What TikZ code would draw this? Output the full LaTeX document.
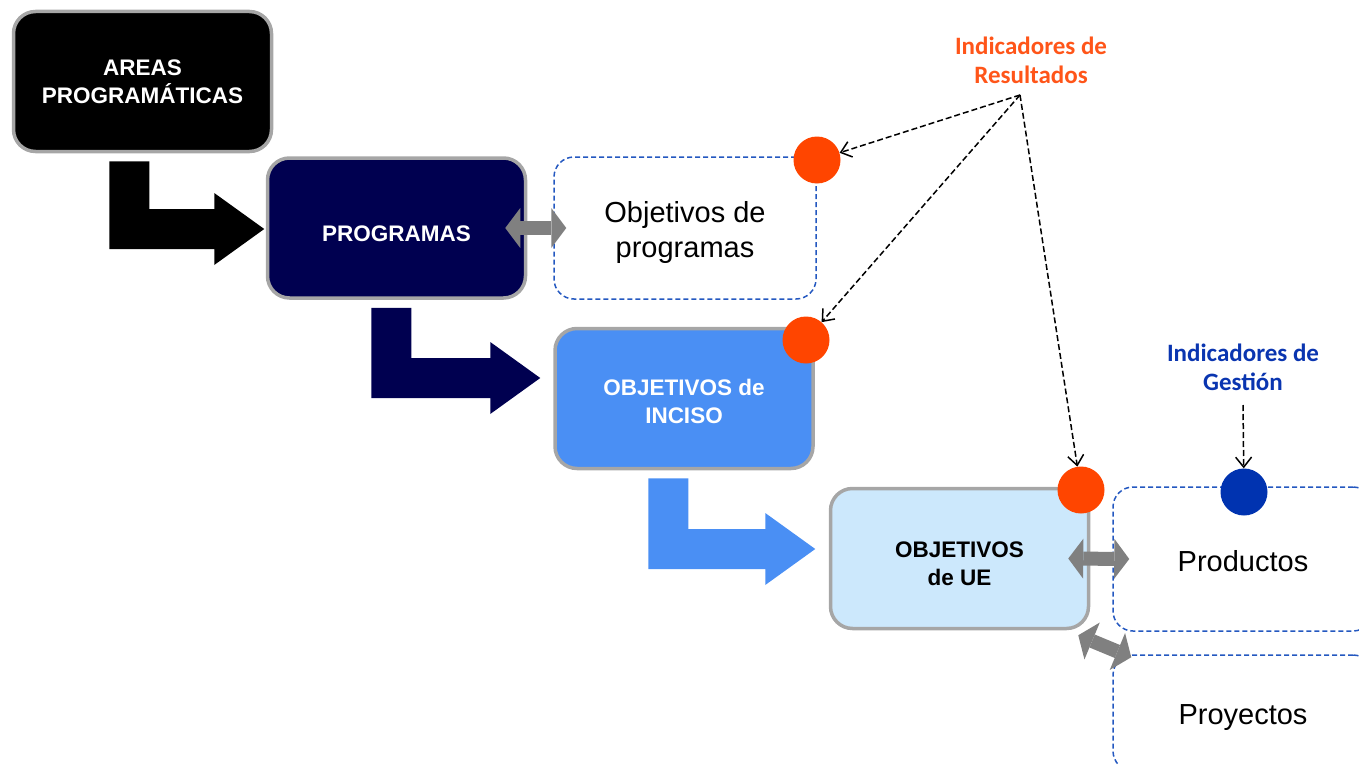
\documentclass[tikz,border=0pt]{standalone}
\usepackage{fontspec}
\setmainfont{Liberation Sans}
\newfontfamily\calibri{Carlito}
\usepackage{tikz}
\usetikzlibrary{arrows.meta,calc}

\definecolor{progblue}{HTML}{000050}
\definecolor{incisoblue}{HTML}{4A8FF4}
\definecolor{uefill}{HTML}{CCE8FC}
\definecolor{boxgray}{HTML}{A6A6A6}
\definecolor{dashblue}{HTML}{2458C0}
\definecolor{arrowgray}{HTML}{808080}
\definecolor{resorange}{HTML}{FF4500}
\definecolor{restext}{HTML}{FF5519}
\definecolor{gestblue}{HTML}{0033B0}
\definecolor{gesttext}{HTML}{0A35B0}

\newcommand{\topstrut}[1]{\rule{0pt}{#1pt}}
\newcommand{\elbow}[6]{%
  \fill[#1] let \p1 = ([shift={(#4,8)}]#2.south west), \p3 = ([shift={(-#5,#6)}]#3.west) in
    (\p1) -- (\x1+40pt,\y1) -- (\x1+40pt,\y3+20pt) -- (\x3-50pt,\y3+20pt) -- (\x3-50pt,\y3+36pt)
    -- (\p3) -- (\x3-50pt,\y3-36pt) -- (\x3-50pt,\y3-20pt) -- (\x1,\y3-20pt) -- cycle;}

\begin{document}
\begin{tikzpicture}[x = 1pt, y = -1pt,
	blockbox/.style = {draw = boxgray, line width = 3.5pt, rounded corners = 22pt, minimum width = 258pt, minimum height = 140pt, align = center, font = \bfseries\fontsize{22.5}{28}\selectfont},
	objbox/.style = {draw = dashblue, line width = 1.5pt, dash pattern = on 5pt off 3pt, rounded corners = 20pt, minimum width = 262pt, minimum height = 142pt, align = center, font = \fontsize{29}{35}\selectfont},
	inddot/.style = {shape = circle, inner sep = 0pt, minimum size = 47pt},
	indlabel/.style = {align = center, font = \calibri\bfseries\fontsize{25}{29}\selectfont},
	dashlink/.style = {line width = 1.5pt, dash pattern = on 6pt off 3pt, -{Straight Barb[length=10pt,width=16pt]}},
	grayarrow/.style = {line width = 14pt, arrowgray, {Triangle[length=15pt,width=40pt,line width=0pt]}-{Triangle[length=15pt,width=40pt,line width=0pt]}}]
	\useasboundingbox (0,0) rectangle (1359,765);
	\clip (0,0) rectangle (1359,765);

	\node[blockbox, fill = black, text = white] (areas) at (142.5,81.5) {AREAS\\PROGRAMÁTICAS};
	\node[blockbox, fill = progblue, text = white] (prog) at (396.5,228) {\topstrut{28}PROGRAMAS};
	\node[objbox] (objprog) at (685,228) {\topstrut{31}Objetivos de\\programas};
	\node[blockbox, fill = incisoblue, text = white] (inciso) at (684,398.5) {\topstrut{22.5}OBJETIVOS de\\INCISO};
	\node[blockbox, fill = uefill, text = black] (ue) at (959.5,558.5) {\topstrut{26.5}OBJETIVOS\\de UE};
	\node[objbox, minimum width = 260pt, minimum height = 144pt] (prod) at (1243,559) {\topstrut{25}Productos};
	\node[objbox, minimum width = 260pt, minimum height = 116pt] (proy) at (1243,713) {\topstrut{29}Proyectos};

	\elbow{black}{areas}{prog}{97.5}{1.5}{1}
	\elbow{progblue}{prog}{inciso}{105.5}{13}{-20.5}
	\elbow{incisoblue}{inciso}{ue}{95}{13.5}{-9.5}

	\draw[grayarrow] ([xshift=-22pt]prog.east) -- ([xshift=13pt]objprog.west);
	\draw[grayarrow] ([xshift=-22pt]ue.east) -- ([xshift=17pt]prod.west);
	\draw[grayarrow] ([shift={(-12,5)}]ue.south east) -- ([shift={(19,3)}]proy.north west);

	\node[inddot, fill = resorange] (c1) at (817,160) {};
	\node[inddot, fill = resorange] (c2) at (806,340) {};
	\node[inddot, fill = resorange] (c3) at (1081,490) {};
	\node[inddot, fill = gestblue] (g1) at (1244,492) {};

	\node[indlabel, text = restext] (res) at (1031,60) {Indicadores de\\Resultados};
	\node[indlabel, text = gesttext] (ges) at (1243,367) {Indicadores de\\Gestión};
	\coordinate (hub) at (1020,95);
	\coordinate (gtail) at (1243,405);

	\draw[dashlink] (hub) -- (c1);
	\draw[dashlink] (hub) -- (c2);
	\draw[dashlink] (hub) -- (c3);
	\draw[dashlink] (gtail) -- (g1);
\end{tikzpicture}
\end{document}
